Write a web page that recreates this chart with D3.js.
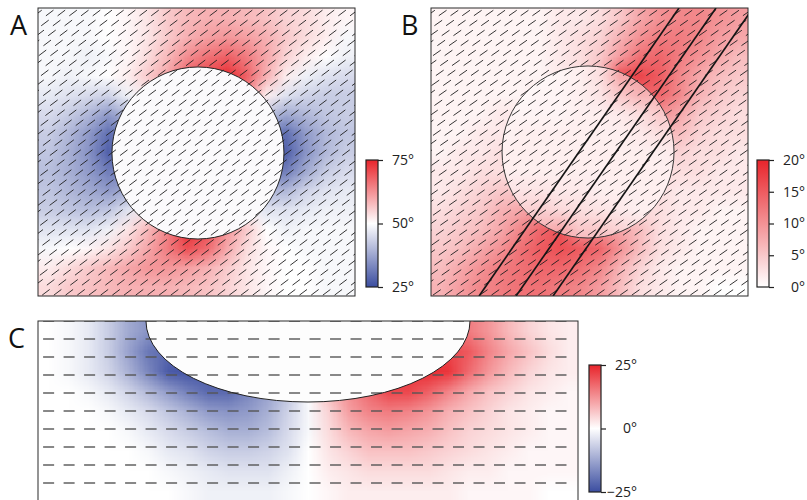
<!DOCTYPE html>
<html>
<head>
<meta charset="utf-8">
<script src="https://cdn.jsdelivr.net/npm/d3@7"></script>
<style>
  body { margin: 0; background: #fff; }
  svg { display: block; }
</style>
</head>
<body>
<div id="main"></div>
<script>
// ---- data ----
// panel A: angle field (deg), 15 rows x 16 cols, top row first
const gridA = [
  [49,49,49,50,51,53,56,58,59,59,58,57,55,54,52,51],
  [49,49,49,50,51,53,56,59,61,62,61,59,56,54,52,49],
  [49,49,48,49,51,54,58,63,66,68,65,60,55,52,50,48],
  [49,48,49,50,52,56,60,68,71,74,68,59,52,48,46,45],
  [47,46,45,44,48,52,58,65,70,72,64,52,46,44,43,43],
  [45,43,40,36,40,44,53,62,71,64,52,42,38,40,42,43],
  [43,40,36,30,32,34,42,56,60,50,38,32,30,36,40,42],
  [42,39,35,28,30,30,34,50,50,40,30,28,28,35,40,43],
  [41,39,36,32,32,34,42,50,50,44,36,32,32,38,43,45],
  [42,40,38,36,38,44,54,68,64,52,46,40,40,44,46,47],
  [43,42,41,42,46,52,60,72,68,58,50,46,46,47,48,48],
  [46,46,46,48,53,58,64,74,70,62,56,50,48,49,49,49],
  [49,50,51,53,56,60,65,70,67,60,54,51,50,49,49,49],
  [52,54,56,58,60,62,62,61,59,56,53,51,50,50,49,49],
  [54,56,57,58,59,59,59,58,57,55,53,51,50,50,49,49]
];
// panel B: misfit (deg), 15 x 16
const gridB = [
  [1,1,1,1,1,1,2,2,3,5,8,10,11,11,10,9],
  [1,1,1,1,1,1,2,3,4,7,10,12,12,11,9,8],
  [1,1,1,1,1,1,2,3,5,9,13,14,12,10,8,6],
  [1,1,1,1,1,1,2,3,6,16,17,15,11,8,6,5],
  [1,1,1,1,1,2,2,3,5,10,14,14,11,7,5,4],
  [1,1,1,2,2,2,2,3,3,4,6,10,8,5,4,3],
  [1,1,2,2,3,3,3,3,3,3,4,6,6,4,3,3],
  [1,2,2,3,3,3,3,3,3,3,3,3,4,3,3,2],
  [2,2,3,3,3,3,3,3,3,3,3,3,3,3,2,2],
  [2,3,4,5,5,5,4,4,3,3,3,3,2,2,2,2],
  [3,4,5,7,8,9,7,6,5,4,3,3,2,2,1,1],
  [4,5,6,8,11,14,16,10,10,8,6,3,2,1,1,1],
  [5,6,8,10,13,15,16,15,14,10,6,3,2,1,1,1],
  [6,8,10,12,13,14,14,13,11,7,4,2,1,1,1,1],
  [7,9,11,12,13,13,12,11,9,6,3,2,1,1,0,0]
];
// panel C: rotation (deg), 9 rows x 27 cols
const gridC = [
  [0,-1,-3,-7,-12,-15,-15,-6,0,0,0,0,0,0,0,0,0,0,0,6,15,15,12,8,5,3,2],
  [0,-1,-3,-7,-13,-19,-21,-21,-10,0,0,0,0,0,0,0,0,0,10,21,21,19,14,10,7,4,2],
  [0,-1,-3,-6,-11,-17,-23,-24,-23,-21,-17,-13,-8,0,8,13,17,21,23,24,23,17,12,8,5,3,2],
  [0,0,-1,-3,-6,-10,-14,-18,-21,-21,-17,-13,-8,0,8,13,17,21,21,18,14,10,7,5,3,2,1],
  [0,0,0,-1,-3,-5,-8,-11,-14,-15,-14,-11,-6,-1,5,11,14,15,14,12,9,7,5,3,2,1,1],
  [0,0,0,0,-1,-3,-5,-7,-9,-11,-11,-9,-5,-1,4,8,10,11,10,9,7,5,4,3,2,1,1],
  [0,0,0,0,0,-1,-3,-4,-6,-7,-7,-6,-4,0,3,5,7,7,7,6,5,4,3,2,1,1,1],
  [0,0,0,0,0,0,-1,-2,-3,-4,-4,-4,-2,0,2,3,4,4,4,4,3,2,2,1,1,1,1],
  [0,0,0,0,0,0,0,-1,-2,-2,-2,-2,-1,0,1,2,2,2,2,2,2,1,1,1,1,0,0]
];
// inclusion outlines (units of the inclusion radius)
const inclusionA = { cx: 0, cy: 0, rx: 1, ry: 1 };
const inclusionB = { cx: 0, cy: 0, rx: 1, ry: 1 };
const inclusionC = { cx: 0, cy: 0, rx: 2, ry: 1 };
// fault traces in panel B, [x, y] end points
const faultsB = [
  [[-1.267, -1.674], [1.058, 1.674]],
  [[-0.837, -1.674], [1.488, 1.674]],
  [[-0.407, -1.674], [1.919, 1.674]]
];
const ticksA = [25, 50, 75];
const ticksB = [0, 5, 10, 15, 20];
const ticksC = [-25, 0, 25];

// ---- drawing ----
const W = 807, H = 500;
const FONT = "'Open Sans', 'DejaVu Sans', sans-serif";
const RED = "#e8242b", BLUE = "#3b4da0";

const svg = d3.select("#main").append("svg").attr("width", W).attr("height", H);
const defs = svg.append("defs");

const colA = d3.scaleLinear().domain([25, 50, 75]).range([BLUE, "#ffffff", RED]);
const colB = d3.scaleLinear().domain([0, 20]).range(["#ffffff", RED]);
const colC = d3.scaleLinear().domain([-25, 0, 25]).range([BLUE, "#ffffff", RED]);

function heatUrl(grid, color) {
    const rows = grid.length, cols = grid[0].length;
    const cv = document.createElement("canvas");
    cv.width = cols;
    cv.height = rows;
    const ctx = cv.getContext("2d");
    const img = ctx.createImageData(cols, rows);
    grid.forEach((row, j) => row.forEach((v, i) => {
        const c = d3.rgb(color(v));
        const k = 4 * (j * cols + i);
        img.data[k] = c.r; img.data[k + 1] = c.g; img.data[k + 2] = c.b; img.data[k + 3] = 255;
    }));
    ctx.putImageData(img, 0, 0);
    return cv.toDataURL();
}

function makePanel(id, box, xd, yd) {
    const [x0, y0, x1, y1] = box;
    const x = d3.scaleLinear().domain(xd).range([x0, x1]);
    const y = d3.scaleLinear().domain(yd).range([y0, y1]);
    defs.append("clipPath").attr("id", "clip" + id)
        .append("rect").attr("x", x0).attr("y", y0).attr("width", x1 - x0).attr("height", y1 - y0);
    const g = svg.append("g").attr("clip-path", `url(#clip${id})`);
    return { id, box, x, y, g };
}

function drawHeat(p, grid, color) {
    const [x0, y0, x1, y1] = p.box;
    p.g.append("image")
        .attr("href", heatUrl(grid, color))
        .attr("x", x0).attr("y", y0)
        .attr("width", x1 - x0).attr("height", y1 - y0)
        .attr("preserveAspectRatio", "none");
}

function inclusion(p, c) {
    return p.g.append("ellipse")
        .attr("cx", p.x(c.cx)).attr("cy", p.y(c.cy))
        .attr("rx", p.x(c.rx) - p.x(0)).attr("ry", p.y(0) - p.y(c.ry));
}

// short orientation bars on a sheared lattice (dx, dy, shift per row, all in data units)
function drawHatch(p, h) {
    const xd = p.x.domain(), yd = p.y.domain();
    const a = h.angle * Math.PI / 180;
    const hx = Math.cos(a) * h.len / 2, hy = Math.sin(a) * h.len / 2;
    const pts = [];
    d3.range(d3.max(yd) - h.dy / 2, d3.min(yd), -h.dy).forEach((v, j) => {
        const off = (j * h.shift) % h.dx;
        d3.range(xd[0] - h.dx + off, xd[1] + h.dx, h.dx).forEach(u => pts.push([u, v]));
    });
    p.g.append("g").selectAll("line")
        .data(pts)
        .join("line")
        .attr("x1", d => p.x(d[0] - hx)).attr("y1", d => p.y(d[1] - hy))
        .attr("x2", d => p.x(d[0] + hx)).attr("y2", d => p.y(d[1] + hy))
        .attr("stroke", "#1e1e1e").attr("stroke-width", 0.9);
}

function frame(p) {
    const [x0, y0, x1, y1] = p.box;
    svg.append("rect")
        .attr("x", x0).attr("y", y0).attr("width", x1 - x0).attr("height", y1 - y0)
        .attr("fill", "none").attr("stroke", "#2b2b2b").attr("stroke-width", 1);
}

function letter(txt, x, y) {
    svg.append("text").attr("x", x).attr("y", y)
        .style("font-family", FONT).style("font-size", "27px").style("fill", "#111")
        .text(txt);
}

function colorbar(id, color, ticks, x0, y0, w, h) {
    const dom = d3.extent(ticks);
    const grad = defs.append("linearGradient").attr("id", "grad" + id)
        .attr("x1", 0).attr("y1", 1).attr("x2", 0).attr("y2", 0);
    d3.range(0, 1.0001, 0.1).forEach(t => {
        grad.append("stop").attr("offset", t).attr("stop-color", color(dom[0] + t * (dom[1] - dom[0])));
    });
    svg.append("rect").attr("x", x0).attr("y", y0).attr("width", w).attr("height", h)
        .attr("fill", `url(#grad${id})`).attr("stroke", "#222").attr("stroke-width", 1.2);
    const s = d3.scaleLinear().domain(dom).range([y0 + h, y0]);
    const ax = svg.append("g").attr("transform", `translate(${x0 + w},0)`)
        .call(d3.axisRight(s).tickValues(ticks).tickSize(5)
            .tickFormat(d => (d < 0 ? "\u2212" + Math.abs(d) : d) + "\u00b0"));
    ax.select(".domain").remove();
    ax.selectAll("line").attr("stroke", "#222").attr("stroke-width", 1.2);
    ax.selectAll("text")
        .attr("x", 36).attr("text-anchor", "end")
        .style("font-family", FONT).style("font-size", "14px").style("fill", "#222");
}

const hatchA = { dx: 0.136, dy: 0.116, shift: 0.081, len: 0.11, angle: 37 };
const hatchB = { dx: 0.136, dy: 0.116, shift: 0.085, len: 0.11, angle: 35 };

// panel A
const pA = makePanel("A", [38, 8, 355, 296], [-1.86, 1.826], [1.686, -1.663]);
drawHeat(pA, gridA, colA);
inclusion(pA, inclusionA).attr("fill", "#fbfafc");
drawHatch(pA, hatchA);
inclusion(pA, inclusionA).attr("fill", "none").attr("stroke", "#222").attr("stroke-width", 1);
frame(pA);
letter("A", 10, 35);
colorbar("A", colA, ticksA, 366, 160, 12, 127);

// panel B
const pB = makePanel("B", [431, 8, 748, 296], [-1.826, 1.86], [1.674, -1.674]);
drawHeat(pB, gridB, colB);
inclusion(pB, inclusionB).attr("fill", "#fff").attr("fill-opacity", 0.5);
drawHatch(pB, hatchB);
inclusion(pB, inclusionB).attr("fill", "none").attr("stroke", "#333").attr("stroke-width", 1);
const line = d3.line().x(d => pB.x(d[0])).y(d => pB.y(d[1]));
pB.g.selectAll(".fault").data(faultsB).join("path")
    .attr("d", line).attr("fill", "none").attr("stroke", "#151515").attr("stroke-width", 1.7);
frame(pB);
letter("B", 401, 35);
colorbar("B", colB, ticksB, 757, 160, 12, 127);

// panel C
const pC = makePanel("C", [38, 321, 578, 501], [-3.333, 3.333], [0, -2.222]);
drawHeat(pC, gridC, colC);
inclusion(pC, inclusionC).attr("fill", "#fdfdfd");
const rowsC = d3.range(0, -2.1, -0.2222);
const colsC = d3.range(-3.27, 3.25, 0.253);
pC.g.append("g").selectAll("line")
    .data(d3.cross(rowsC, colsC))
    .join("line")
    .attr("x1", d => pC.x(d[1])).attr("x2", d => pC.x(d[1] + 0.136))
    .attr("y1", d => pC.y(d[0])).attr("y2", d => pC.y(d[0]))
    .attr("stroke", "#555").attr("stroke-width", 1.4);
inclusion(pC, inclusionC).attr("fill", "none").attr("stroke", "#222").attr("stroke-width", 1);
frame(pC);
letter("C", 8, 348);
colorbar("C", colC, ticksC, 589, 365, 12, 127);
</script>
</body>
</html>
